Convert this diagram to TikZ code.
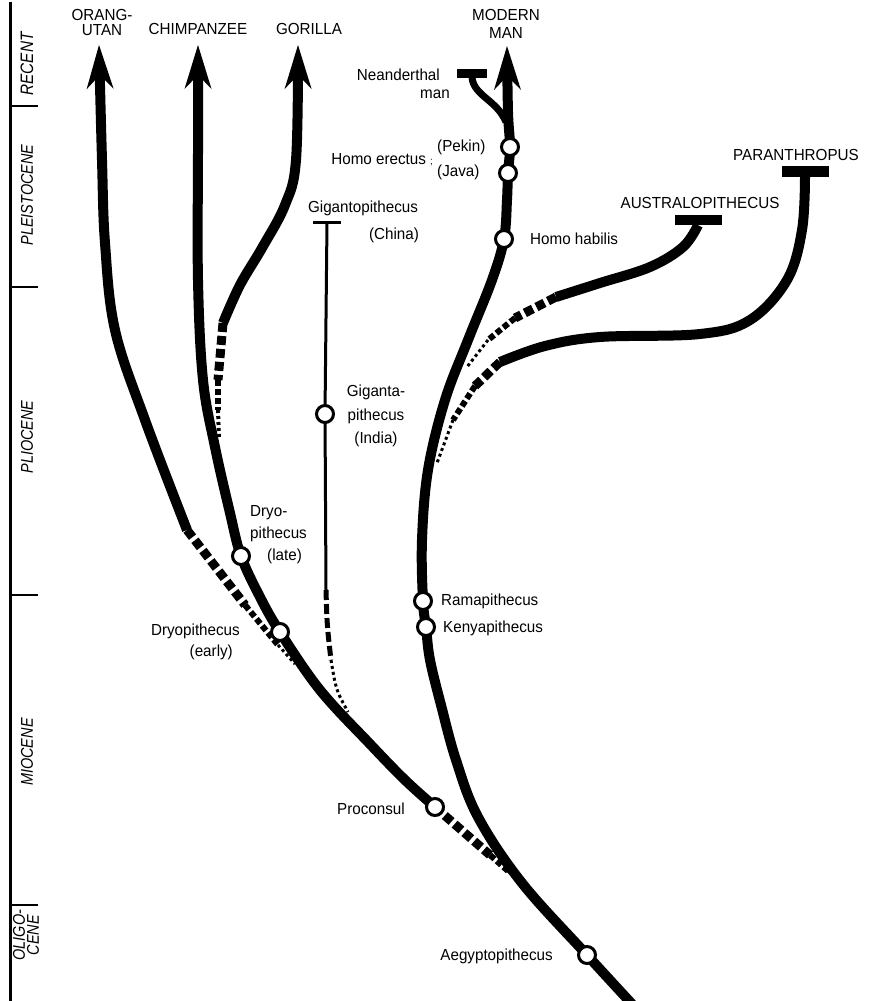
\documentclass[tikz,border=0pt]{standalone}
\usepackage{fontspec}
\setmainfont{Liberation Sans}[FakeStretch=0.95]
\newfontfamily\axisfont{Liberation Sans}[FakeStretch=0.85]
\usetikzlibrary{arrows.meta}
\pgfdeclarelayer{bg}
\pgfsetlayers{bg,main}
\begin{document}
\begin{tikzpicture}[x=1pt,y=-1pt,
  lineage/.style={line width=10pt, line join=round},
  headed/.style={lineage, -{Stealth[length=44pt,width=27pt,inset=14pt,line width=0pt]}},
  fossil/.style={circle, draw, line width=3pt, fill=white, minimum size=17pt, inner sep=0pt},
  endbar/.style={rectangle, fill=black, inner sep=0pt},
  lbl/.style={inner sep=0pt, font=\fontsize{16}{18}\selectfont},
  eralbl/.style={inner sep=0pt, rotate=90, font=\axisfont\itshape\fontsize{17}{14}\selectfont},
  dashA/.style={line width=9pt, dash pattern=on 9pt off 4pt},
  dashB/.style={line width=6pt, dash pattern=on 6pt off 3pt},
  dashC/.style={line width=3pt, dash pattern=on 3pt off 3pt},
  axisline/.style={line width=3pt},
  eratick/.style={line width=2.5pt}]
\useasboundingbox (0,0) rectangle (868,1001);

% ---------- time axis ----------
\coordinate (axtop) at (10,2);
\coordinate (axbot) at (10,1001);
\coordinate (t1a) at (10,106); \coordinate (t1b) at (38,106);
\coordinate (t2a) at (10,287); \coordinate (t2b) at (38,287);
\coordinate (t3a) at (10,595); \coordinate (t3b) at (38,595);
\coordinate (t4a) at (10,905); \coordinate (t4b) at (38,905);
\draw[axisline] (axtop) -- (axbot);
\foreach \t in {1,2,3,4} \draw[eratick] (t\t a) -- (t\t b);
\node[eralbl, font=\axisfont\itshape\fontsize{18}{14}\selectfont] (recent) at (27,64) {RECENT};
\node[eralbl] (pleist) at (27,195) {PLEISTOCENE};
\node[eralbl] (plio) at (27,437) {PLIOCENE};
\node[eralbl] (mio) at (27,752) {MIOCENE};
\node[eralbl, align=center] (oligo) at (26,935) {OLIGO-\\CENE};

% ---------- fossil nodes ----------
\node[fossil] (aegypto) at (587,955) {};
\node[fossil] (proconsul) at (435,807) {};
\node[fossil] (dryoearly) at (280,632) {};
\node[fossil] (dryolate) at (241,556) {};
\node[fossil] (rama) at (423,601) {};
\node[fossil] (kenya) at (426,627) {};
\node[fossil] (india) at (325,414) {};
\node[fossil] (habilis) at (504,239) {};
\node[fossil] (java) at (508,173) {};
\node[fossil] (pekin) at (510,147) {};
\node[endbar, minimum width=30pt, minimum height=9pt] (nbar) at (472,73) {};
\node[endbar, minimum width=47pt, minimum height=10pt] (abar) at (698,220) {};
\node[endbar, minimum width=47pt, minimum height=11pt] (pbar) at (805,171) {};
\node[endbar, minimum width=28pt, minimum height=3pt] (gbar) at (327,222) {};

% ---------- free ends ----------
\coordinate (orangtip) at (99,45);
\coordinate (chimptip) at (198,45);
\coordinate (gortip) at (298,45);
\coordinate (mmtip) at (507,46);
\coordinate (hbase) at (632,1004);
\coordinate (orangdash) at (187,530);
\coordinate (orangmid1) at (245,605);
\coordinate (orangmid2) at (278,645);
\coordinate (orangend) at (295,664);
\coordinate (procmid1) at (490,855);
\coordinate (procmid2) at (508,871);
\coordinate (procend) at (520,883);
\coordinate (gordash) at (223,323);
\coordinate (gormid1) at (218,380);
\coordinate (gormid2) at (218,410);
\coordinate (gorend) at (219,438);
\coordinate (austdash) at (556,297);
\coordinate (austmid1) at (515,318);
\coordinate (austmid2) at (488,340);
\coordinate (austend) at (467,367);
\coordinate (pardash) at (500,362);
\coordinate (parmid1) at (475,386);
\coordinate (parmid2) at (453,420);
\coordinate (parend) at (437,463);
\coordinate (gigdash) at (326,590);
\coordinate (gigmid) at (331,660);
\coordinate (gigend) at (348,712);
\coordinate (neanjoin) at (506,122);

% ---------- labels ----------
\node[lbl, align=center, font=\fontsize{16}{15}\selectfont] (lorang) at (102,22) {ORANG-\\UTAN};
\node[lbl] (lchimp) at (198,29) {CHIMPANZEE};
\node[lbl] (lgor) at (309,29) {GORILLA};
\node[lbl, align=center] (lmm) at (506,24) {MODERN\\MAN};
\node[lbl, align=right, anchor=east] (lnean) at (450,84) {Neanderthal\hspace*{10pt}\\man};
\node[lbl, anchor=east] (lerect) at (433,160) {Homo erectus {\fontsize{10}{10}\selectfont;}};
\node[lbl, anchor=west] (lpekin) at (437,147) {(Pekin)};
\node[lbl, anchor=west] (ljava) at (437,172) {(Java)};
\node[lbl, anchor=west] (lhab) at (530,239) {Homo habilis};
\node[lbl] (lchina1) at (363,208) {Gigantopithecus};
\node[lbl] (lchina2) at (394,235) {(China)};
\node[lbl, align=center, font=\fontsize{16}{23.5}\selectfont] (lindia) at (376,416) {Giganta-\\pithecus\\(India)};
\node[lbl] (laust) at (700,203) {AUSTRALOPITHECUS};
\node[lbl] (lpar) at (796,155) {PARANTHROPUS};
\node[lbl, align=left, anchor=west, font=\fontsize{16}{22}\selectfont] (llate) at (250,535) {Dryo-\\pithecus\\\hspace*{17pt}(late)};
\node[lbl, align=right, anchor=east, font=\fontsize{16}{21}\selectfont] (learly) at (240,642) {Dryopithecus\\(early)\hspace*{7pt}};
\node[lbl, anchor=west] (lrama) at (441,601) {Ramapithecus};
\node[lbl, anchor=west] (lkenya) at (443,628) {Kenyapithecus};
\node[lbl, anchor=east] (lproc) at (405,809) {Proconsul};
\node[lbl, anchor=east] (laeg) at (553,956) {Aegyptopithecus};

% ---------- connectors ----------
\begin{pgfonlayer}{bg}
% human lineage
\draw[headed] plot[smooth, tension=0.6] coordinates {(hbase) (aegypto.center) (522,883) (478,817) (456,760) (441,705) (430,660) (kenya.center) (rama.center) (422,540) (428,470) (445,400) (468,340) (492,280) (habilis.center) (507,200) (java.center) (pekin.center) (508,112) (mmtip)};
% Neanderthal
\draw[line width=7pt] (neanjoin) .. controls (497,100) and (474,96) .. (nbar.south);
% chimpanzee / Dryopithecus / Proconsul
\draw[headed] plot[smooth, tension=0.6] coordinates {(proconsul.center) (405,780) (370,744) (320,690) (dryoearly.center) (260,597) (dryolate.center) (230,513) (215,447) (203,380) (198,280) (198,150) (chimptip)};
\draw[dashA] (proconsul.center) -- (procmid1);
\draw[dashB] (procmid1) -- (procmid2);
\draw[dashC] (procmid2) -- (procend);
% orang-utan
\draw[headed] plot[smooth, tension=0.6] coordinates {(orangdash) (145,420) (115,330) (105,243) (102,160) (orangtip)};
\draw[dashA] (orangdash) -- (orangmid1);
\draw[dashB] (orangmid1) -- (orangmid2);
\draw[dashC] (orangmid2) -- (orangend);
% gorilla
\draw[headed] plot[smooth, tension=0.6] coordinates {(gordash) (240,285) (262,248) (285,205) (296,160) (gortip)};
\draw[dashA] (gordash) -- (gormid1);
\draw[dashB] (gormid1) -- (gormid2);
\draw[dashC, line width=4pt] (gormid2) -- (gorend);
% Gigantopithecus
\draw[line width=3pt] (gbar.center) -- (india.center) -- (gigdash);
\draw[line width=5pt, dash pattern=on 10pt off 4pt] (gigdash) .. controls (327,625) .. (gigmid);
\draw[dashC] (gigmid) .. controls (336,690) .. (gigend);
% Australopithecus
\draw[lineage] plot[smooth, tension=0.6] coordinates {(abar.south) (683,247) (650,267) (600,283) (austdash)};
\draw[dashA] (austdash) -- (austmid1);
\draw[dashB] (austmid1) -- (austmid2);
\draw[dashC] (austmid2) -- (austend);
% Paranthropus
\draw[lineage] plot[smooth, tension=0.6] coordinates {(pbar.south) (802,230) (787,280) (750,320) (700,334) (600,337) (545,346) (pardash)};
\draw[dashA] (pardash) -- (parmid1);
\draw[dashB] (parmid1) -- (parmid2);
\draw[dashC] (parmid2) -- (parend);
\end{pgfonlayer}
\end{tikzpicture}
\end{document}
